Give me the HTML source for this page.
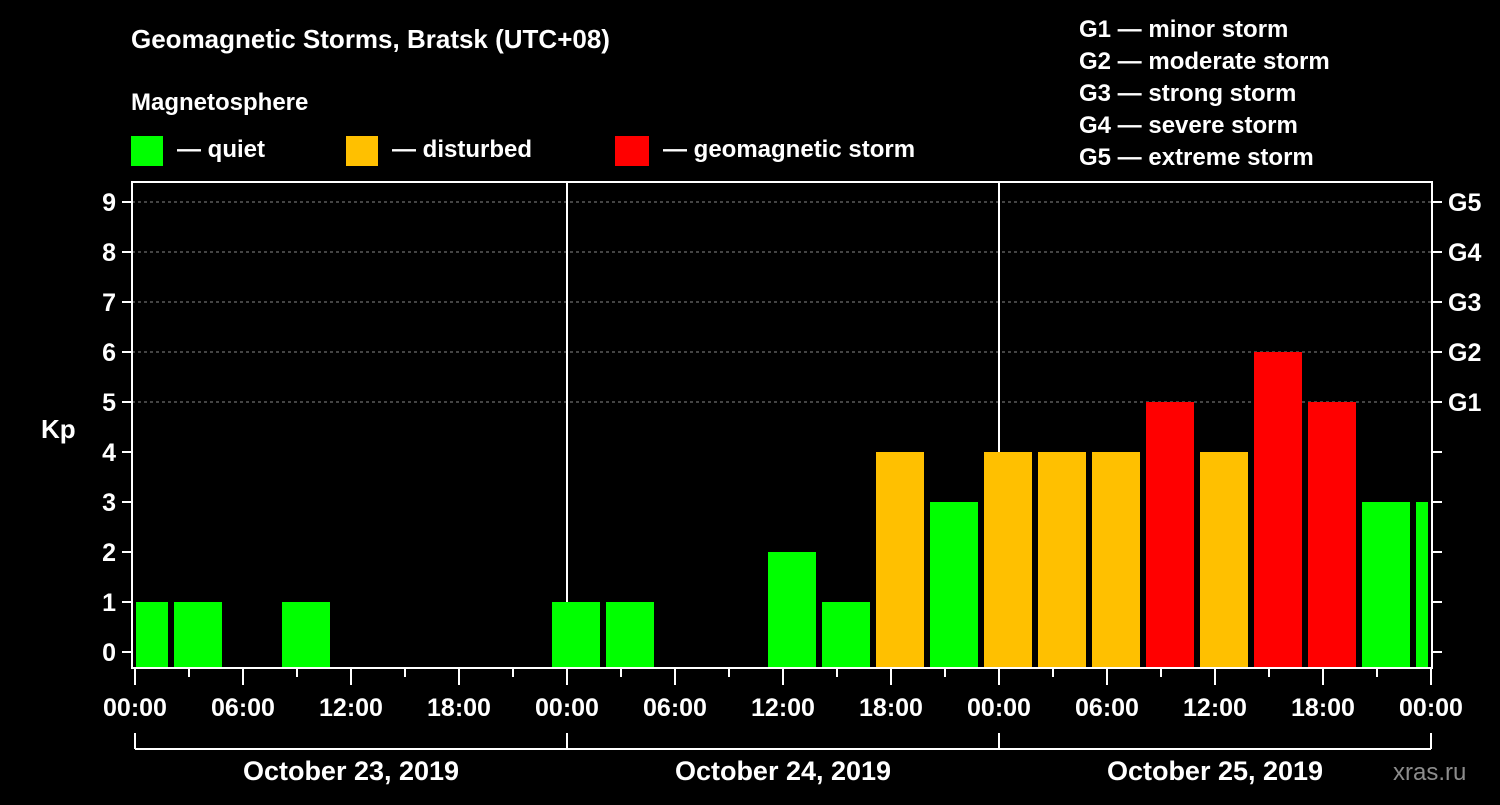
<!DOCTYPE html>
<html><head><meta charset="utf-8"><style>
body{margin:0;background:#000;width:1500px;height:800px;overflow:hidden}
svg text{font-family:"Liberation Sans",Arial,sans-serif;font-weight:bold;fill:#fff}
</style></head><body>
<svg id="chart" width="1500" height="800" xmlns="http://www.w3.org/2000/svg">
<text x="131" y="48" font-size="26">Geomagnetic Storms, Bratsk (UTC+08)</text>
<text x="131" y="110" font-size="24">Magnetosphere</text>
<g><rect x="131" y="136" width="32" height="30" fill="#00ff00"/><text x="177" y="157" font-size="24">— quiet</text></g>
<g><rect x="346" y="136" width="32" height="30" fill="#ffc000"/><text x="392" y="157" font-size="24">— disturbed</text></g>
<g><rect x="615" y="136" width="34" height="30" fill="#ff0000"/><text x="663" y="157" font-size="24">— geomagnetic storm</text></g>
<g font-size="24">
<text x="1079" y="37">G1 — minor storm</text><text x="1079" y="69">G2 — moderate storm</text><text x="1079" y="101">G3 — strong storm</text><text x="1079" y="133">G4 — severe storm</text><text x="1079" y="165">G5 — extreme storm</text></g>
<text x="41" y="438" font-size="26">Kp</text>
<text x="1393" y="780" font-size="24" fill="#888" style="fill:#8c8c8c;font-weight:normal">xras.ru</text>
<g id="plot"></g>
</svg>
<script>
const kpValues=[1,1,null,1,null,null,null,null,1,1,null,null,2,1,4,3,4,4,4,5,4,6,5,3,3];
const slotStartHour=-1;
const slotHours=3;
const hourLabels=["00:00","06:00","12:00","18:00"];
const dayLabels=["October 23, 2019","October 24, 2019","October 25, 2019"];
const gLabels=["G1","G2","G3","G4","G5"];
const NS="http://www.w3.org/2000/svg";
const L=132,R=1432,T=182,B=668,X0=135,PXH=18;
const xs=h=>X0+h*PXH;
const ys=k=>652-k*50;
const g=document.getElementById('plot');
function mk(t,a){const e=document.createElementNS(NS,t);for(const k in a)e.setAttribute(k,a[k]);g.appendChild(e);return e;}
// gridlines
for(let k=5;k<=9;k++){const l=mk('line',{x1:L,x2:R,y1:ys(k),y2:ys(k),stroke:'#888','stroke-dasharray':'3,3','stroke-width':1});

}
// day separators
for(let d=1;d<3;d++){const l=mk('line',{x1:xs(24*d),x2:xs(24*d),y1:T,y2:B,stroke:'#fff','stroke-width':2});

}
// bars
kpValues.forEach((v,i)=>{if(v===null)return;
let x1=xs(slotStartHour+i*slotHours)+3,x2=xs(slotStartHour+(i+1)*slotHours)-3;
x1=Math.max(x1,L+4);x2=Math.min(x2,R-4);
const c=v>=5?'#ff0000':(v>=4?'#ffc000':'#00ff00');
const r=mk('rect',{x:x1,y:ys(v),width:x2-x1,height:B-ys(v),fill:c});

});
// frame
const f=mk('rect',{x:L,y:T,width:R-L,height:B-T,fill:'none',stroke:'#fff','stroke-width':2});


// y ticks and labels
for(let k=0;k<=9;k++){
mk('line',{x1:L-10,x2:L,y1:ys(k),y2:ys(k),stroke:'#fff','stroke-width':2});
mk('line',{x1:R,x2:R+10,y1:ys(k),y2:ys(k),stroke:'#fff','stroke-width':2});
const t=mk('text',{x:116,y:ys(k)+9,'font-size':25,'text-anchor':'end'});t.textContent=k;

}
gLabels.forEach((s,i)=>{const t=mk('text',{x:1448,y:ys(5+i)+9,'font-size':25});t.textContent=s;

});
// x ticks
for(let h=0;h<=72;h+=3){const major=h%6===0;
mk('line',{x1:xs(h),x2:xs(h),y1:B,y2:B+(major?17:9),stroke:'#fff','stroke-width':2});
if(major){const t=mk('text',{x:xs(h),y:716,'font-size':25,'text-anchor':'middle'});t.textContent=hourLabels[(h%24)/6];

}}
// day bracket
mk('line',{x1:xs(0),x2:xs(72),y1:749,y2:749,stroke:'#fff','stroke-width':2});
for(let d=0;d<=3;d++)mk('line',{x1:xs(24*d),x2:xs(24*d),y1:733,y2:749,stroke:'#fff','stroke-width':2});
dayLabels.forEach((s,d)=>{const t=mk('text',{x:xs(24*d+12),y:780,'font-size':27,'text-anchor':'middle'});t.textContent=s;

});
</script>
</body></html>
